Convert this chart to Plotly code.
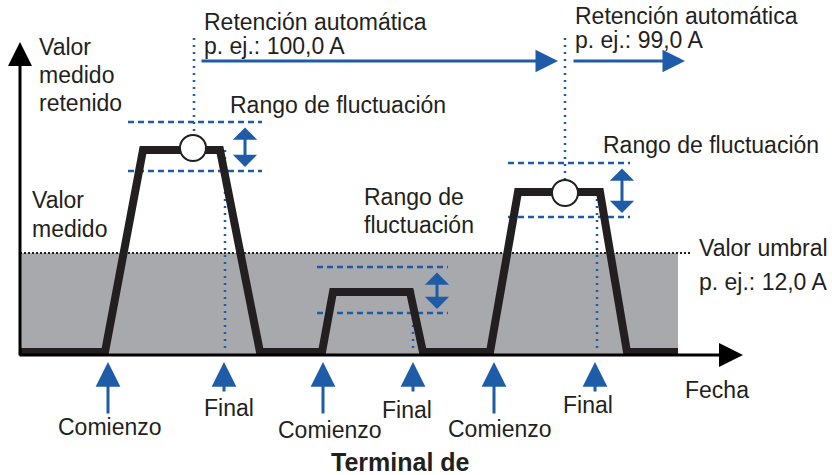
import plotly.graph_objects as go

# Diagram drawn in a 832x475 coordinate space (y grows downward)
wave_t = [20, 105, 143, 220, 260, 322, 333, 410, 423, 490, 518, 600, 627, 678]
wave_v = [352, 352, 150, 150, 352, 352, 292, 292, 352, 352, 192, 192, 352, 352]

threshold_v = 253
area_t = [20, 678]
axis_origin = (20, 355)

held_t = [193, 565]
held_v = [148, 193]

# fluctuation bands
band_x0 = [128, 317, 508]
band_x1 = [262, 448, 630]
band_top = [122, 267, 163]
band_bot = [171, 313, 217]
band_arrow = [245, 437, 622]

# dotted guides
guide_x = [194, 225, 413, 565, 597]
guide_y0 = [38, 150, 290, 38, 192]
guide_y1 = [136, 352, 352, 180, 352]

event_x = [108, 224, 323, 413, 494, 595]
event_label = ["Comienzo", "Final", "Comienzo", "Final", "Comienzo", "Final"]
event_label_x = [110, 229, 330, 407, 500, 588]
event_label_y = [427, 408, 430, 410, 429, 405]

BLUE = "#1f5ca8"
DARK = "#231f20"
GRAY = "#a7a9ac"
FONT = "Liberation Sans, Arial, sans-serif"

fig = go.Figure()

# gray area under threshold
fig.add_trace(go.Scatter(
    x=[area_t[0], area_t[1], area_t[1], area_t[0], area_t[0]],
    y=[threshold_v, threshold_v, axis_origin[1], axis_origin[1], threshold_v],
    fill="toself", fillcolor=GRAY, mode="none", hoverinfo="skip",
))
# threshold dotted line
fig.add_trace(go.Scatter(
    x=[20, 692], y=[threshold_v, threshold_v], mode="lines",
    line=dict(color=DARK, width=2, dash="2px,2px"), hoverinfo="skip",
))

# dashed fluctuation bands
for x0, x1, yt, yb in zip(band_x0, band_x1, band_top, band_bot):
    for yy in (yt, yb):
        fig.add_trace(go.Scatter(
            x=[x0, x1], y=[yy, yy], mode="lines",
            line=dict(color=BLUE, width=2.5, dash="6px,4px"), hoverinfo="skip",
        ))

# dotted guides
for gx, g0, g1 in zip(guide_x, guide_y0, guide_y1):
    fig.add_trace(go.Scatter(
        x=[gx, gx], y=[g0, g1], mode="lines",
        line=dict(color=BLUE, width=2.5, dash="2px,5px"), hoverinfo="skip",
    ))

# measured value waveform
fig.add_trace(go.Scatter(
    x=wave_t, y=wave_v, mode="lines",
    line=dict(color=DARK, width=8), hoverinfo="skip",
))

# held value markers
fig.add_trace(go.Scatter(
    x=held_t, y=held_v, mode="markers",
    marker=dict(size=26, color="white", line=dict(color=DARK, width=2)),
    hoverinfo="skip",
))

annotations = []

# axes arrows
annotations.append(dict(x=20, y=42, ax=20, ay=357, xref="x", yref="y", axref="x", ayref="y",
                        showarrow=True, arrowhead=2, arrowsize=1.6, arrowwidth=3,
                        arrowcolor="black", text=""))
annotations.append(dict(x=743, y=355, ax=18, ay=355, xref="x", yref="y", axref="x", ayref="y",
                        showarrow=True, arrowhead=2, arrowsize=1.6, arrowwidth=3,
                        arrowcolor="black", text=""))

# retention arrows
for x0, x1 in [(200, 558), (572, 685)]:
    annotations.append(dict(x=x1, y=61, ax=x0, ay=61, xref="x", yref="y", axref="x", ayref="y",
                            showarrow=True, arrowhead=2, arrowsize=1.5, arrowwidth=3,
                            arrowcolor=BLUE, text=""))

# fluctuation double arrows (wide, flat heads)
for bx, yt, yb in zip(band_arrow, band_top, band_bot):
    annotations.append(dict(x=bx, y=yb - 4, ax=bx, ay=yt + 4, xref="x", yref="y",
                            axref="x", ayref="y", showarrow=True, arrowhead=1,
                            startarrowhead=1, arrowside="end+start", arrowsize=1.35,
                            startarrowsize=1.35, arrowwidth=3, arrowcolor=BLUE, text=""))

# event arrows
for ex, lab in zip(event_x, event_label):
    tail = 415 if lab == "Comienzo" else 393
    annotations.append(dict(x=ex, y=362, ax=ex, ay=tail, xref="x", yref="y",
                            axref="x", ayref="y", showarrow=True, arrowhead=2,
                            arrowsize=1.65, arrowwidth=3, arrowcolor=BLUE, text=""))


def label(text, x, y, anchor="left", size=23, bold=False):
    if bold:
        text = f"<b>{text}</b>"
    annotations.append(dict(x=x, y=y, xref="x", yref="y", text=text, showarrow=False,
                            xanchor=anchor, yanchor="middle",
                            font=dict(family=FONT, size=size, color=DARK)))


for lab, lx, ly in zip(event_label, event_label_x, event_label_y):
    label(lab, lx, ly, anchor="center")

label("Valor", 37, 47)
label("medido", 37, 75)
label("retenido", 37, 103)
label("Valor", 30, 200)
label("medido", 30, 229)
label("Retención automática", 202, 22)
label("p. ej.: 100,0 A", 202, 46)
label("Retención automática", 573, 16)
label("p. ej.: 99,0 A", 573, 40)
label("Rango de fluctuación", 228, 105)
label("Rango de", 362, 197)
label("fluctuación", 362, 225)
label("Rango de fluctuación", 601, 145)
label("Valor umbral", 697, 248)
label("p. ej.: 12,0 A", 697, 282)
label("Fecha", 683, 390)
label("Terminal de", 400, 462, anchor="center", size=25, bold=True)

fig.update_layout(
    width=832, height=475,
    margin=dict(l=0, r=0, t=0, b=0),
    paper_bgcolor="white", plot_bgcolor="white",
    showlegend=False,
    xaxis=dict(range=[0, 832], visible=False, fixedrange=True),
    yaxis=dict(range=[475, 0], visible=False, fixedrange=True),
    annotations=annotations,
)

fig.write_html(
    "out.html",
    config={"displayModeBar": False},
    post_script="document.body.style.margin='0';document.body.style.overflow='hidden';",
)
